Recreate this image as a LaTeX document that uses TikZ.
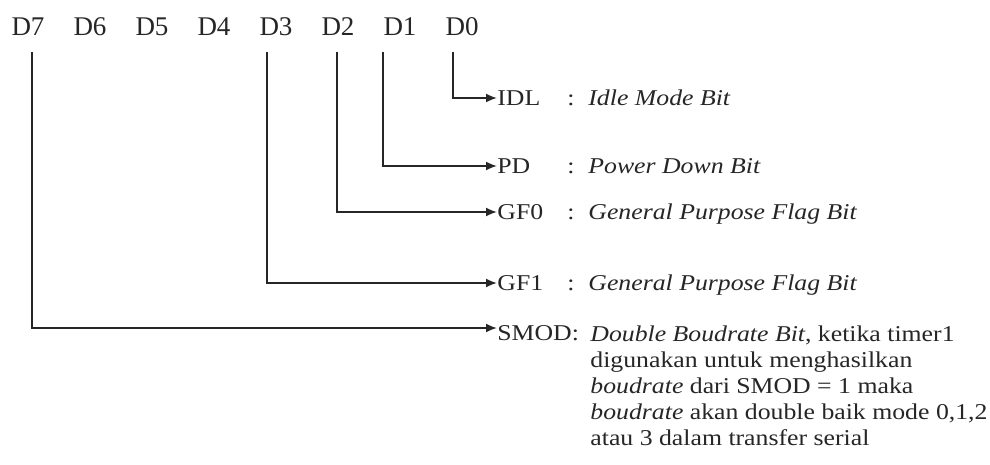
\documentclass[tikz,border=0pt]{standalone}
\usepackage{fontspec}
\setmainfont{Liberation Serif}
\newfontfamily\flagfont{Liberation Serif}[FakeStretch=1.14]
\usetikzlibrary{arrows.meta}
\begin{document}
\begin{tikzpicture}[x=0.5pt, y=-0.5pt,
    every node/.style={inner sep=0pt, text=black!85},
    bitlbl/.style={font=\fontsize{13.5}{16}\selectfont, anchor=base},
    flagname/.style={font=\flagfont\fontsize{11.3}{13}\selectfont, anchor=west},
    flagtxt/.style={font=\flagfont\fontsize{11.3}{13}\selectfont, anchor=base west, align=left},
    conn/.style={draw=black!85, line width=0.9pt, -{Latex[length=5.5pt,width=4.5pt]}}]
    \useasboundingbox (0,0) rectangle (990,465);
    % register bits
    \foreach \b [count=\i from 0] in {7,6,...,0}
        \node[bitlbl] (d\b) at (28+62*\i,36) {D\b};
    % flag names
    \node[flagname] (idl) at (497,98) {IDL};
    \node[flagname] (pd) at (497,166) {PD};
    \node[flagname] (gf0) at (497,212) {GF0};
    \node[flagname] (gf1) at (497,283) {GF1};
    \node[flagname] (smod) at (497,333) {SMOD:};
    \foreach \f/\t in {idl/Idle Mode Bit, pd/Power Down Bit, gf0/General Purpose Flag Bit, gf1/General Purpose Flag Bit}{
        \node[flagtxt] (c\f) at (\f.base -| 567,0) {:};
        \node[flagtxt] (t\f) at (\f.base -| 588,0) {\textit{\t}};
    }
    \node[flagtxt, anchor=north west] (tsmod) at (smod.north -| 590,0) {\textit{Double Boudrate Bit}, ketika timer1\\
        digunakan untuk menghasilkan\\
        \textit{boudrate} dari SMOD = 1 maka\\
        \textit{boudrate} akan double baik mode 0,1,2\\
        atau 3 dalam transfer serial};
    % connectors
    \draw[conn] ([shift={(-9,16)}]d0.base) |- (idl);
    \draw[conn] ([shift={(-17,16)}]d1.base) |- (pd);
    \draw[conn] ([shift={(-1,16)}]d2.base) |- (gf0);
    \draw[conn] ([shift={(-9,16)}]d3.base) |- (gf1);
    \draw[conn] ([shift={(4,16)}]d7.base) |- ([shift={(0,-5)}]smod.west);
\end{tikzpicture}
\end{document}
